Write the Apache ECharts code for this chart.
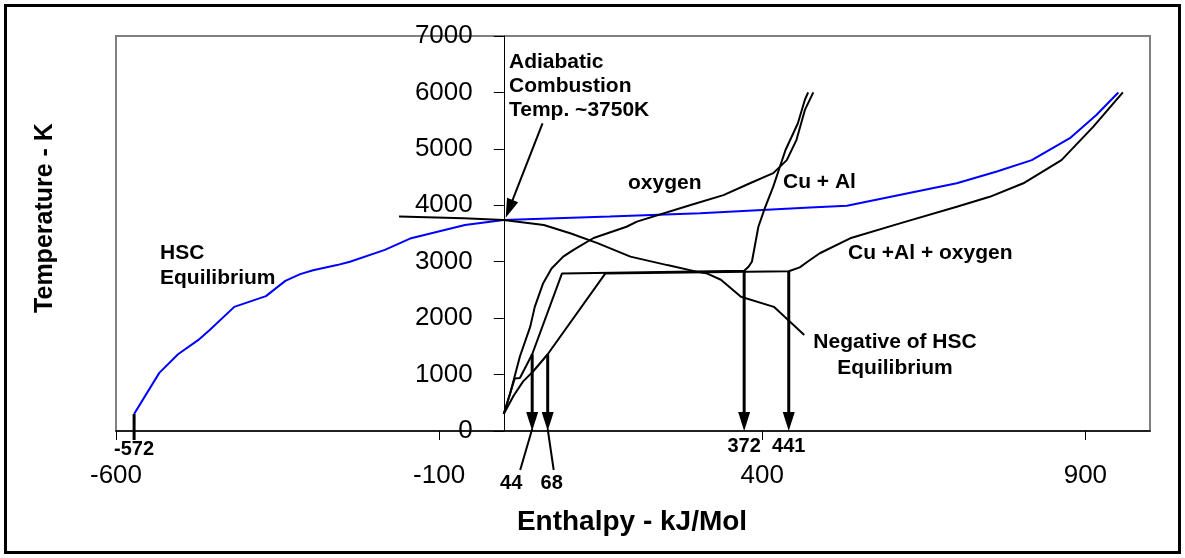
<!DOCTYPE html>
<html>
<head>
<meta charset="utf-8">
<title>Temperature vs Enthalpy</title>
<script src="https://cdn.jsdelivr.net/npm/echarts@6/dist/echarts.min.js"></script>
<style>
  html, body { margin: 0; padding: 0; background: #ffffff; }
  #chart { width: 1185px; height: 558px; }
</style>
</head>
<body>
<div id="chart"></div>
<script>
// Axis ticks
const xTickValues = [-600, -100, 400, 900];
const yTickValues = [0, 1000, 2000, 3000, 4000, 5000, 6000, 7000];

// Curves: [enthalpy kJ/mol, temperature K]
const hscEquilibrium = [
  [-572, 300], [-533, 1030], [-504, 1360], [-473, 1610], [-455, 1790],
  [-417, 2200], [-368, 2390], [-338, 2660], [-315, 2780], [-295, 2850],
  [-258, 2940], [-238, 3000], [-184, 3210], [-145, 3410], [-60, 3650],
  [0, 3740], [164, 3800], [304, 3860], [474, 3960], [531, 3990],
  [701, 4390], [763, 4600], [817, 4800], [876, 5190], [917, 5600], [951, 6000]
];
const negativeHsc = [
  [-162, 3800], [-62, 3770], [0, 3740], [62, 3650], [104, 3500],
  [145, 3330], [196, 3090], [253, 2940], [300, 2820], [315, 2790],
  [336, 2680], [367, 2380], [418, 2200], [465, 1700]
];
const oxygen = [
  [0, 300], [10, 670], [25, 1320], [41, 1850], [48, 2200], [61, 2620],
  [74, 2880], [92, 3090], [108, 3210], [139, 3420], [190, 3620], [206, 3710],
  [288, 4000], [340, 4180], [381, 4390], [417, 4570], [438, 4800],
  [453, 5160], [466, 5690], [479, 6000]
];
const cuAl = [
  [0, 300], [17, 930], [25, 940], [44, 1360], [90, 2790], [372, 2840],
  [378, 2900], [384, 3000], [394, 3620], [404, 3950], [417, 4330],
  [436, 4980], [455, 5450], [466, 5870], [471, 6000]
];
const cuAlOxygen = [
  [0, 300], [15, 620], [30, 880], [45, 1050], [68, 1360], [157, 2790],
  [441, 2830], [458, 2900], [470, 3000], [489, 3150], [536, 3415],
  [613, 3680], [701, 3975], [752, 4150], [804, 4390], [863, 4800],
  [912, 5390], [958, 6000]
];

// Marked enthalpies (arrows down to the axis)
const markerX = [44, 68, 372, 441];
const markerTopT = [1360, 1360, 2830, 2830];
const markerText = ['44', '68', '372', '441'];

// Starting point of the HSC curve
const startMark = [-572, 300];
const startText = '-572';

// Adiabatic combustion pointer: tail -> tip
const adiabaticPointer = [[60, 5450, 3, 3780]];

// Label placement for the marker arrows (pixels, relative to arrow tip)
const markerLabelDx = [-21, 4, 0, 0];
const markerLabelDy = [52, 52, 15, 15];
const markerLeaderDx = [-12, 6, null, null];

const FONT = '"Liberation Sans", Arial, Helvetica, sans-serif';

// Plot area and enthalpy range
const GRID = { left: 116, top: 36, right: 35, bottom: 127 };
const CHART_W = 1185;
const X_MIN = -600, X_MAX = 1000;
// The temperature axis stands at zero enthalpy, inside the plot
const plotW = CHART_W - GRID.left - GRID.right;
const yAxisOffset = -((0 - X_MIN) / (X_MAX - X_MIN)) * plotW;

function arrowShapes(p0, p1, lw, headLen, headW) {
  const dx = p1[0] - p0[0], dy = p1[1] - p0[1];
  const len = Math.hypot(dx, dy);
  const ux = dx / len, uy = dy / len;
  const bx = p1[0] - ux * headLen, by = p1[1] - uy * headLen;
  return [
    { type: 'line', shape: { x1: p0[0], y1: p0[1], x2: bx + ux, y2: by + uy },
      style: { stroke: '#000', lineWidth: lw } },
    { type: 'polygon', shape: { points: [
        [p1[0], p1[1]],
        [bx - uy * headW / 2, by + ux * headW / 2],
        [bx + uy * headW / 2, by - ux * headW / 2]
      ] }, style: { fill: '#000' } }
  ];
}

const chart = echarts.init(document.getElementById('chart'), null, { renderer: 'canvas' });

function lineSeries(name, data, color) {
  return {
    name: name, type: 'line', data: data, showSymbol: false, symbol: 'none',
    smooth: false, animation: false,
    lineStyle: { color: color, width: 2 }, z: 3
  };
}

const option = {
  animation: false,
  backgroundColor: '#ffffff',
  grid: {
    left: GRID.left, top: GRID.top, right: GRID.right, bottom: GRID.bottom,
    show: true, borderColor: '#808080', borderWidth: 2, backgroundColor: 'transparent'
  },
  xAxis: {
    type: 'value', min: X_MIN, max: X_MAX,
    axisLine: { show: true, onZero: false, lineStyle: { color: '#000', width: 1.5 } },
    axisTick: { show: true, inside: false, length: 9, customValues: xTickValues,
      lineStyle: { color: '#000', width: 1 } },
    axisLabel: { show: true, customValues: xTickValues, margin: 32,
      color: '#000', fontSize: 26, fontFamily: FONT, formatter: v => String(v) },
    splitLine: { show: false }
  },
  yAxis: {
    type: 'value', min: 0, max: 7000, interval: 1000,
    offset: yAxisOffset,
    axisLine: { show: true, onZero: false, lineStyle: { color: '#000', width: 1 } },
    axisTick: { show: true, inside: false, length: 10, lineStyle: { color: '#000' } },
    axisLabel: { show: true, margin: 31, color: '#000', fontSize: 26, fontFamily: FONT,
      customValues: yTickValues, formatter: v => String(v) },
    splitLine: { show: false }
  },
  series: [
    lineSeries('HSC Equilibrium', hscEquilibrium, '#0000ff'),
    lineSeries('Negative of HSC Equilibrium', negativeHsc, '#000000'),
    lineSeries('oxygen', oxygen, '#000000'),
    lineSeries('Cu + Al', cuAl, '#000000'),
    lineSeries('Cu +Al + oxygen', cuAlOxygen, '#000000'),
    {
      // vertical arrows down to the enthalpy axis, with their values
      type: 'custom', name: 'markers', clip: false, z: 5,
      data: markerX.map((x, i) => [x, markerTopT[i]]),
      encode: { x: 0, y: 1 },
      renderItem: function (params, api) {
        const i = params.dataIndex;
        const top = api.coord([api.value(0), api.value(1)]);
        const tip = api.coord([api.value(0), 0]);
        const children = arrowShapes(top, tip, 3, 19, 12);
        children.push({
          type: 'text',
          style: {
            text: markerText[i], x: tip[0] + markerLabelDx[i], y: tip[1] + markerLabelDy[i],
            align: 'center', verticalAlign: 'middle',
            font: 'bold 20px ' + FONT, fill: '#000'
          }
        });
        if (markerLeaderDx[i] !== null) {
          children.push({
            type: 'line',
            shape: { x1: tip[0] + markerLeaderDx[i], y1: tip[1] + 39, x2: tip[0], y2: tip[1] - 2 },
            style: { stroke: '#000', lineWidth: 2 }
          });
        }
        return { type: 'group', children: children };
      }
    },
    {
      // pointer to the adiabatic combustion temperature
      type: 'custom', name: 'adiabatic', clip: false, z: 5,
      data: adiabaticPointer,
      encode: { x: [0, 2], y: [1, 3] },
      renderItem: function (params, api) {
        const tail = api.coord([api.value(0), api.value(1)]);
        const tip = api.coord([api.value(2), api.value(3)]);
        return { type: 'group', children: arrowShapes(tail, tip, 2, 19, 12) };
      }
    },
    {
      // start of the HSC curve, marked on the axis
      type: 'custom', name: 'start', clip: false, z: 5,
      data: [startMark],
      encode: { x: 0, y: 1 },
      renderItem: function (params, api) {
        const p = api.coord([api.value(0), api.value(1)]);
        const a = api.coord([api.value(0), 0]);
        return {
          type: 'group',
          children: [
            { type: 'line', shape: { x1: p[0], y1: p[1], x2: a[0], y2: a[1] + 9 },
              style: { stroke: '#000', lineWidth: 3 } },
            { type: 'text', style: { text: startText, x: a[0], y: a[1] + 18,
                align: 'center', verticalAlign: 'middle',
                font: 'bold 20px ' + FONT, fill: '#000' } }
          ]
        };
      }
    }
  ],
  graphic: [
    { type: 'rect', shape: { x: 5.5, y: 5.5, width: 1174, height: 547 },
      style: { fill: 'none', stroke: '#000', lineWidth: 3 }, z: 10, silent: true },
    { type: 'text', x: 45, y: 218, rotation: Math.PI / 2,
      style: { text: 'Temperature - K', align: 'center', verticalAlign: 'middle',
        font: 'bold 25px ' + FONT, fill: '#000' } },
    { type: 'text', x: 632, y: 522,
      style: { text: 'Enthalpy - kJ/Mol', align: 'center', verticalAlign: 'middle',
        font: 'bold 28px ' + FONT, fill: '#000' } },
    { type: 'text', x: 509, y: 50,
      style: { text: 'Adiabatic\nCombustion\nTemp. ~3750K', align: 'left', verticalAlign: 'top',
        lineHeight: 24, font: 'bold 21px ' + FONT, fill: '#000' } },
    { type: 'text', x: 628, y: 183,
      style: { text: 'oxygen', align: 'left', verticalAlign: 'middle',
        font: 'bold 21px ' + FONT, fill: '#000' } },
    { type: 'text', x: 783, y: 182,
      style: { text: 'Cu + Al', align: 'left', verticalAlign: 'middle',
        font: 'bold 21px ' + FONT, fill: '#000' } },
    { type: 'text', x: 848, y: 253,
      style: { text: 'Cu +Al + oxygen', align: 'left', verticalAlign: 'middle',
        font: 'bold 21px ' + FONT, fill: '#000' } },
    { type: 'text', x: 895, y: 355,
      style: { text: 'Negative of HSC\nEquilibrium', align: 'center', verticalAlign: 'middle',
        lineHeight: 26, font: 'bold 21px ' + FONT, fill: '#000' } },
    { type: 'text', x: 160, y: 266,
      style: { text: 'HSC\nEquilibrium', align: 'left', verticalAlign: 'middle',
        lineHeight: 25, font: 'bold 21px ' + FONT, fill: '#000' } }
  ]
};

chart.setOption(option);
</script>
</body>
</html>
